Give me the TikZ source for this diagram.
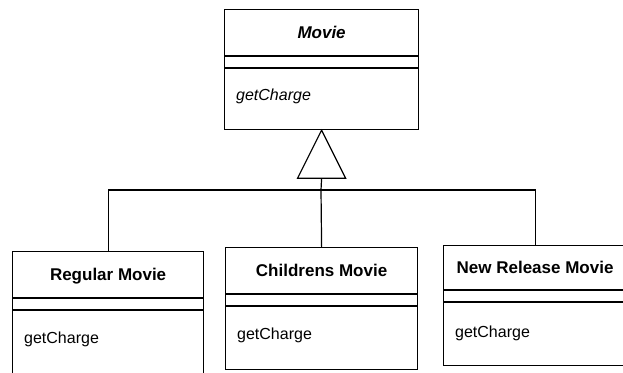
\documentclass[tikz,border=0pt]{standalone}
\usepackage{fontspec}
\setmainfont{Liberation Sans}
\usepackage{tikz}
\usetikzlibrary{calc}

\tikzstyle{classbox} = [rectangle, draw=black, line width=1.2pt, anchor=north west,
minimum height=122pt, inner sep=0pt]
\tikzstyle{classname} = [font=\fontsize{17}{20}\selectfont\bfseries, anchor=base, inner sep=0pt]
\tikzstyle{abstractname} = [classname, font=\fontsize{17}{20}\selectfont\bfseries\itshape]
\tikzstyle{method} = [font=\fontsize{16}{19}\selectfont, anchor=base west, inner sep=0pt]
\tikzstyle{abstractmethod} = [method, font=\fontsize{16}{19}\selectfont\itshape]
\tikzstyle{divider} = [line width=1.2pt]
\tikzstyle{inherit} = [line width=1.2pt, line join=miter]

\begin{document}
\begin{tikzpicture}[x=1pt, y=1pt]
    \useasboundingbox (0,0) rectangle (623,372);

    % superclass
    \node (movie) [classbox, minimum width=194pt, minimum height=120pt] at (224,363) {};
    \node (moviename) [abstractname] at ($(movie.north)+(0,-30)$) {Movie};
    \draw[divider] ($(movie.north west)+(0,-47)$) -- ($(movie.north east)+(0,-47)$);
    \draw[divider] ($(movie.north west)+(0,-59)$) -- ($(movie.north east)+(0,-59)$);
    \node (moviecharge) [abstractmethod] at ($(movie.north west)+(12,-92)$) {getCharge};

    % subclasses
    \node (regular) [classbox, minimum width=191pt] at (12,121) {};
    \node (regularname) [classname] at ($(regular.north)+(0,-30)$) {Regular Movie};
    \draw[divider] ($(regular.north west)+(0,-47)$) -- ($(regular.north east)+(0,-47)$);
    \draw[divider] ($(regular.north west)+(0,-59)$) -- ($(regular.north east)+(0,-59)$);
    \node (regularcharge) [method] at ($(regular.north west)+(12,-92)$) {getCharge};

    \node (childrens) [classbox, minimum width=192pt] at (225,125) {};
    \node (childrensname) [classname] at ($(childrens.north)+(0,-30)$) {Childrens Movie};
    \draw[divider] ($(childrens.north west)+(0,-47)$) -- ($(childrens.north east)+(0,-47)$);
    \draw[divider] ($(childrens.north west)+(0,-59)$) -- ($(childrens.north east)+(0,-59)$);
    \node (childrenscharge) [method] at ($(childrens.north west)+(12,-92)$) {getCharge};

    \node (newrelease) [classbox, minimum width=183pt, minimum height=120pt] at (443,127) {};
    \node (newreleasename) [classname] at ($(newrelease.north)+(0,-28)$) {New Release Movie};
    \draw[divider] ($(newrelease.north west)+(0,-45)$) -- ($(newrelease.north east)+(0,-45)$);
    \draw[divider] ($(newrelease.north west)+(0,-57)$) -- ($(newrelease.north east)+(0,-57)$);
    \node (newreleasecharge) [method] at ($(newrelease.north west)+(12,-92)$) {getCharge};

    % generalization
    \coordinate (bus) at (321,182);
    \coordinate (genbase) at ($(movie.south)+(0,-48)$);
    \draw[inherit] (movie.south) -- ($(genbase)+(-24,0)$) -- ($(genbase)+(24,0)$) -- cycle;
    \draw[divider] (genbase) -- (bus);
    \draw[divider] (regular.north) |- (bus) -| (newrelease.north);
    \draw[divider] (childrens.north) -- (bus);
\end{tikzpicture}
\end{document}
